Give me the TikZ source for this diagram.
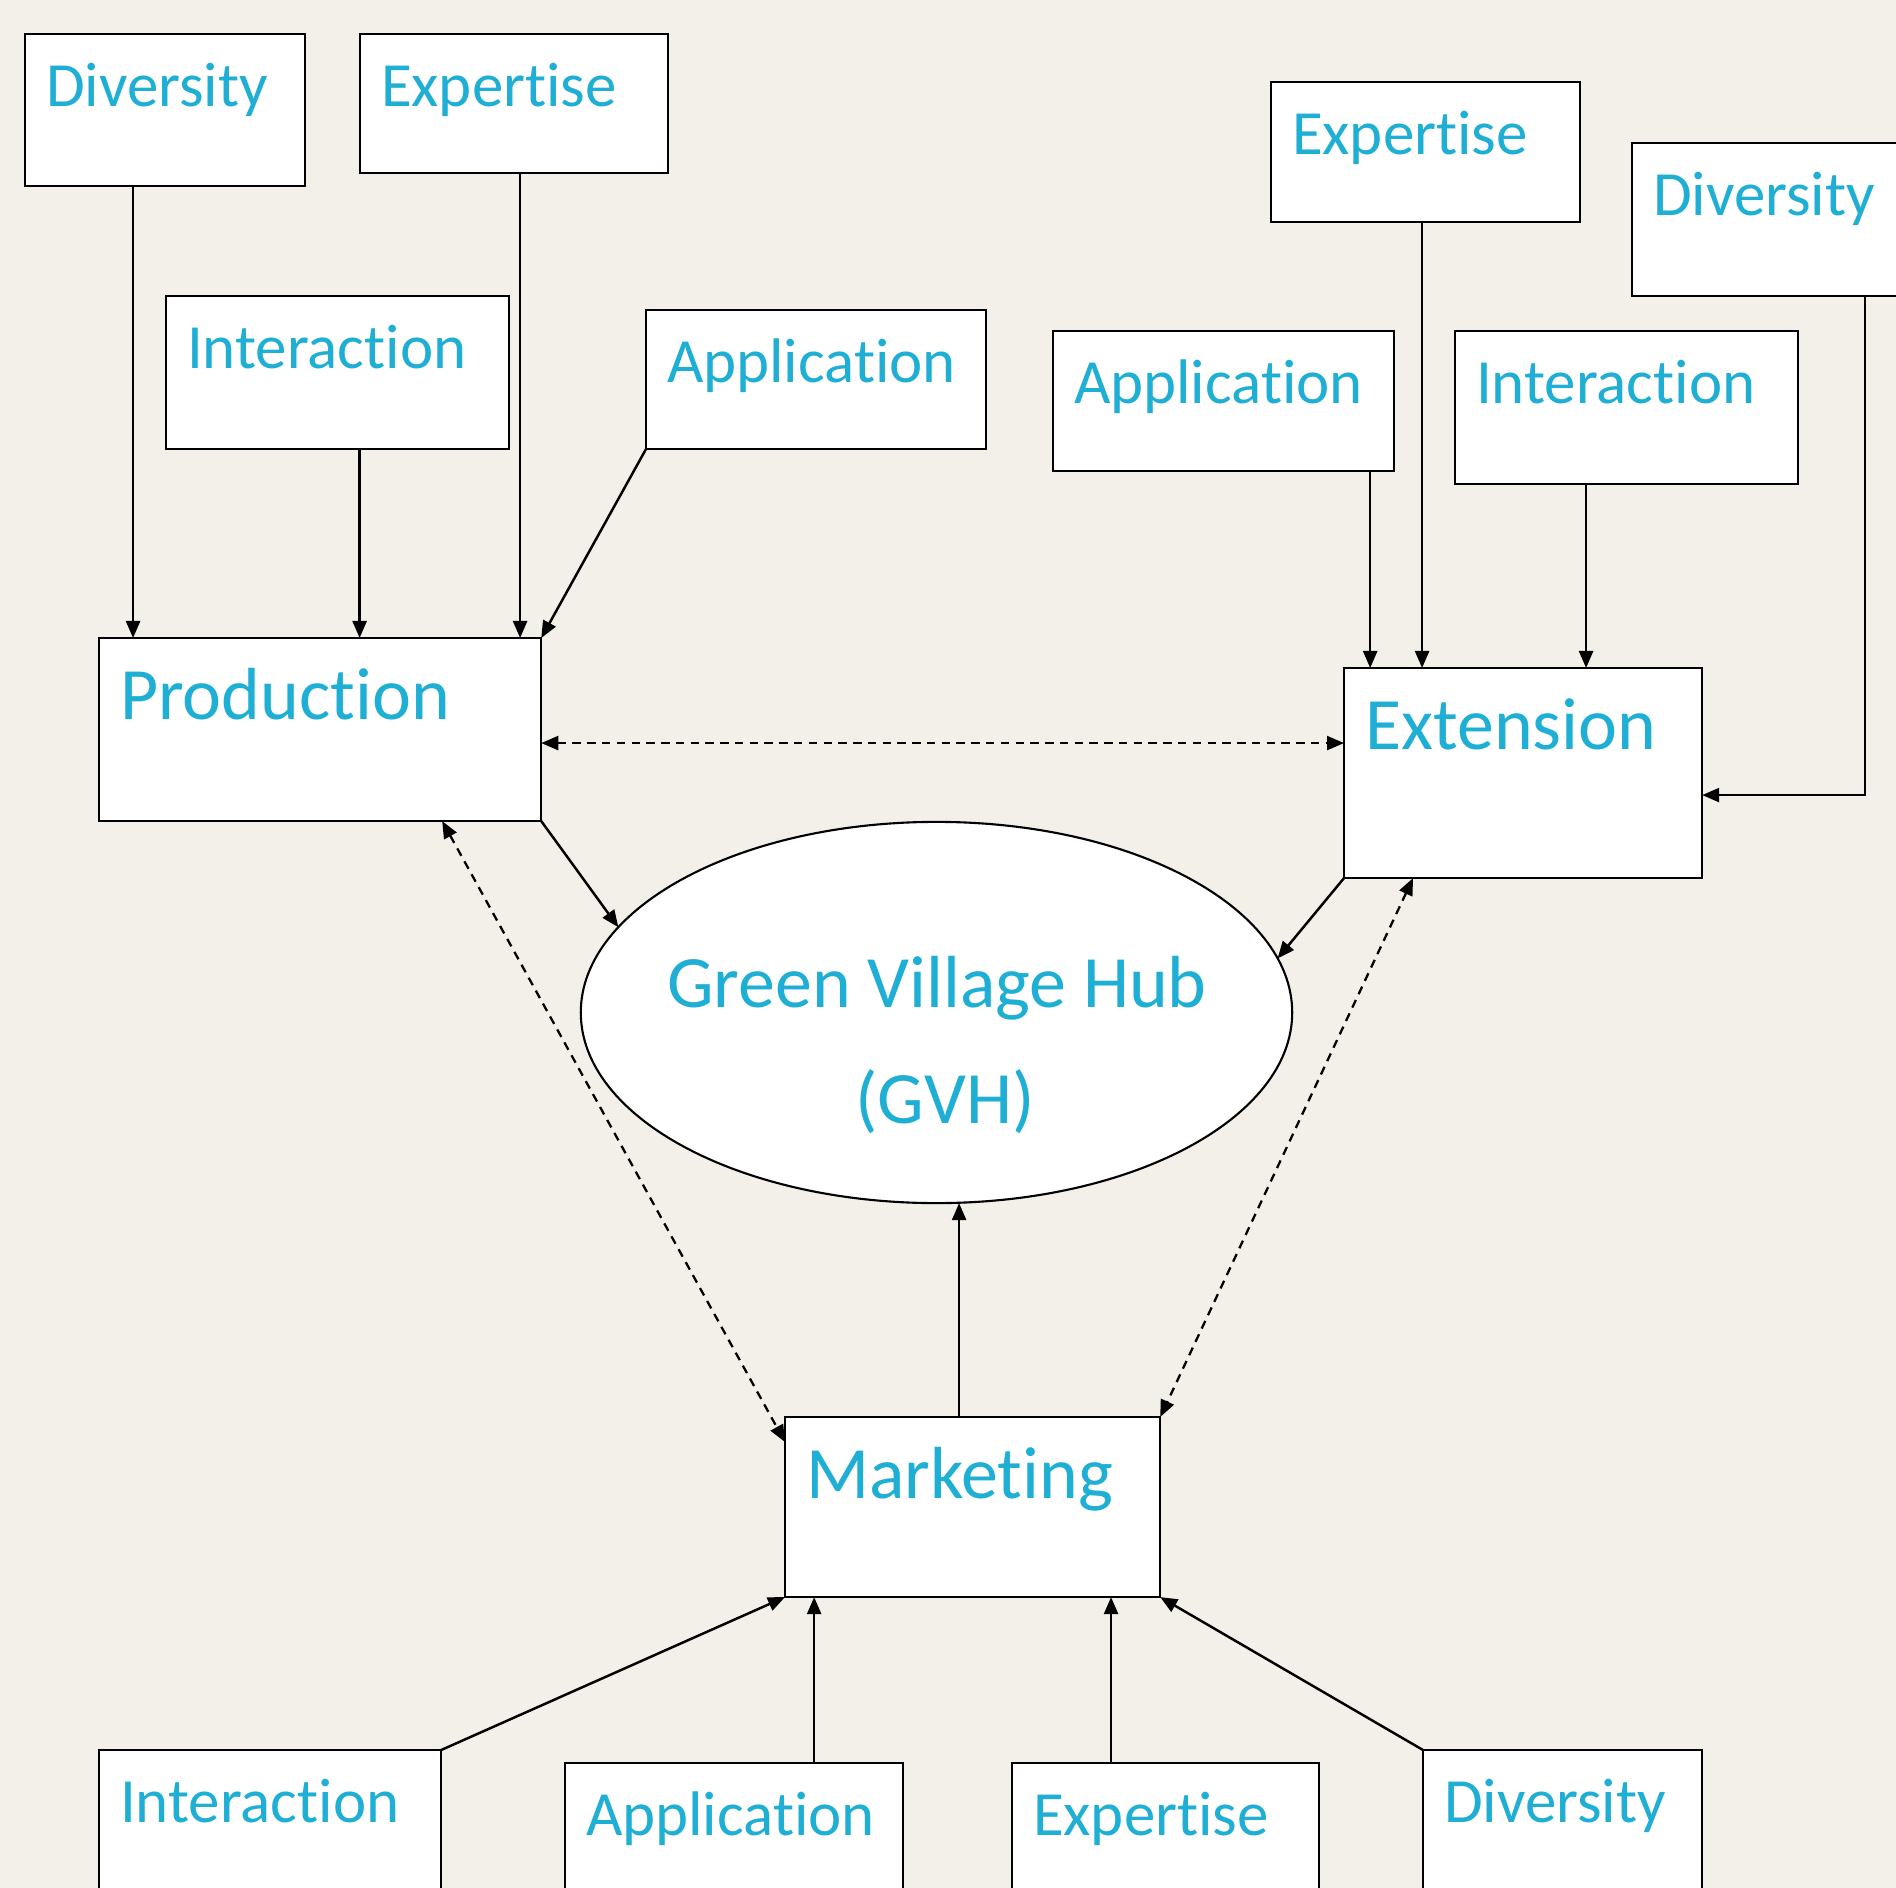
\documentclass[tikz,border=0pt]{standalone}
\usepackage{fontspec}
\setmainfont{Carlito}[Ligatures=NoCommon]
\usepackage{tikz}
\usetikzlibrary{arrows.meta, shapes.geometric, positioning}

\definecolor{fond}{RGB}{242,240,233}
\definecolor{bleu}{RGB}{31,174,212}

\tikzset{
  boite/.style={draw, fill=white, line width=0.6pt, anchor=north west, inner xsep=0.21cm, inner ysep=0pt, outer sep=0pt, align=left, text=bleu},
  petit/.style={boite, font=\fontsize{17.9}{21}\selectfont, text height=0.72cm},
  grand/.style={boite, font=\fontsize{21}{25}\selectfont, text height=0.81cm},
  fleche/.style={line width=0.7pt, -{Triangle[length=0.17cm, width=0.14cm]}},
  lien/.style={line width=0.65pt, dash pattern=on 2.4pt off 1.8pt, {Triangle[length=0.17cm, width=0.14cm]}-{Triangle[length=0.17cm, width=0.14cm]}},
  hubtexte/.style={anchor=base, inner sep=0pt, text=bleu, font=\fontsize{21}{25}\selectfont}
}

\begin{document}
\begin{tikzpicture}[x=0.01cm, y=-0.01cm]
        % Cadre et fond
        \useasboundingbox (0,0) rectangle (1896,1888);
        \clip (0,0) rectangle (1896,1888);
        \fill[fond] (0,0) rectangle (1896,1888);

        % Boites autour de Production
        \node[petit, text width=2.38cm, text depth=0.80cm] (divP) at (25,34) {Diversity};
        \node[petit, text width=2.66cm, text depth=0.67cm] (expP) at (360,34) {Expertise};
        \node[petit, text width=3.01cm, text depth=0.81cm] (intP) at (166,296) {Interaction};
        \node[petit, text width=2.98cm, text depth=0.67cm] (appP) at (646,310) {Application};
        \node[grand, text width=4.00cm, text depth=1.02cm] (prod) at (99,638) {Production};

        % Boites autour de Extension
        \node[petit, text width=2.67cm, text depth=0.68cm] (expE) at (1271,82) {Expertise};
        \node[petit, text width=2.48cm, text depth=0.81cm] (divE) at (1632,143) {Diversity};
        \node[petit, text width=2.99cm, text depth=0.68cm] (appE) at (1053,331) {Application};
        \node[petit, text width=3.01cm, text depth=0.81cm] (intE) at (1455,331) {Interaction};
        \node[grand, text width=3.16cm, text depth=1.29cm] (ext) at (1344,668) {Extension};

        % Boites autour de Marketing
        \node[grand, text width=3.33cm, text depth=0.99cm] (mark) at (785,1417) {Marketing};
        \node[petit, text width=3.00cm, text depth=1.30cm] (intM) at (99,1750) {Interaction};
        \node[petit, text width=2.96cm, text depth=1.30cm] (appM) at (565,1763) {Application};
        \node[petit, text width=2.65cm, text depth=1.30cm] (expM) at (1012,1763) {Expertise};
        \node[petit, text width=2.37cm, text depth=1.30cm] (divM) at (1423,1750) {Diversity};

        % Le hub au centre
        \node[draw, ellipse, fill=white, line width=0.6pt, minimum width=7.11cm, minimum height=3.81cm, inner sep=0pt, outer sep=0pt] (hub) at (936.5,1012.5) {};
        \node[hubtexte] (hubnom) at (937,1007) {Green Village Hub};
        \node[hubtexte] (hubsigle) at (945,1123) {(GVH)};

        % Fleches vers Production
        \draw[fleche] ([xshift=-0.32cm]divP.south) -- ([xshift=-0.32cm]divP.south |- prod.north);
        \draw[fleche] ([xshift=0.22cm]intP.south) -- ([xshift=0.22cm]intP.south |- prod.north);
        \draw[fleche] ([xshift=0.06cm]expP.south) -- ([xshift=0.06cm]expP.south |- prod.north);
        \draw[fleche] (appP.south west) -- (prod.north east);

        % Fleches vers Extension
        \draw[fleche] ([xshift=1.465cm]appE.south) -- ([xshift=1.465cm]appE.south |- ext.north);
        \draw[fleche] ([xshift=-0.035cm]expE.south) -- ([xshift=-0.035cm]expE.south |- ext.north);
        \draw[fleche] ([xshift=-0.405cm]intE.south) -- ([xshift=-0.405cm]intE.south |- ext.north);
        \draw[fleche] ([xshift=0.88cm]divE.south) |- ([yshift=-0.22cm]ext.east);

        % Fleches vers Marketing
        \draw[fleche] (intM.north east) -- (mark.south west);
        \draw[fleche] ([xshift=0.80cm]appM.north) -- ([xshift=0.80cm]appM.north |- mark.south);
        \draw[fleche] ([xshift=-0.545cm]expM.north) -- ([xshift=-0.545cm]expM.north |- mark.south);
        \draw[fleche] (divM.north west) -- (mark.south east);

        % Vers le hub
        \draw[fleche] (prod.south east) -- (hub.165);
        \draw[fleche] (ext.south west) -- (hub.9);
        \draw[fleche] ([xshift=-0.135cm]mark.north) -- ([xshift=-0.135cm]mark.north |- hub.south);

        % Liens en pointilles
        \draw[lien] ([yshift=-0.135cm]prod.east) -- ([yshift=-0.135cm]prod.east -| ext.west);
        \draw[lien] ([xshift=1.22cm]prod.south) -- ([yshift=-0.25cm]mark.north west);
        \draw[lien] ([xshift=-1.10cm]ext.south) -- (mark.north east);

\end{tikzpicture}
\end{document}
